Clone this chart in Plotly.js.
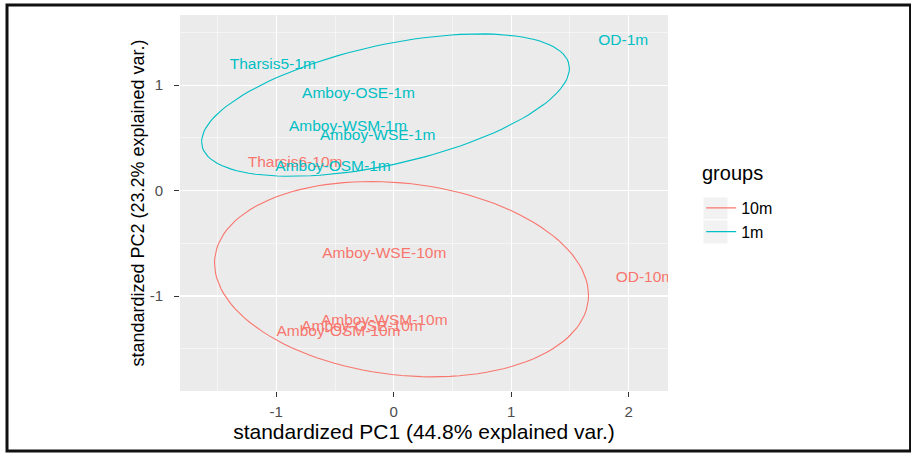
<!DOCTYPE html>
<html>
<head>
<meta charset="utf-8">
<script src="https://cdn.plot.ly/plotly-3.0.1.min.js"></script>
<style>
  html, body { margin: 0; padding: 0; background: #ffffff; }
  #chart { width: 911px; height: 455px; }
</style>
</head>
<body>
<div id="chart"></div>
<script>
// ---- data (standardized PC scores) ----
const groupNames = ["10m", "1m"];
const groupColors = ["#F8766D", "#00BFC4"];

const labels10m = ["Tharsis6-10m", "Amboy-WSE-10m", "OD-10m", "Amboy-WSM-10m", "Amboy-OSE-10m", "Amboy-OSM-10m"];
const pc1_10m = [-0.84, -0.08, 2.14, -0.08, -0.27, -0.47];
const pc2_10m = [0.26, -0.60, -0.83, -1.24, -1.29, -1.34];

const labels1m = ["OD-1m", "Tharsis5-1m", "Amboy-OSE-1m", "Amboy-WSM-1m", "Amboy-WSE-1m", "Amboy-OSM-1m"];
const pc1_1m = [1.955, -1.03, -0.30, -0.39, -0.137, -0.517];
const pc2_1m = [1.42, 1.19, 0.91, 0.60, 0.515, 0.225];

const xTicks = [-1, 0, 1, 2];
const yTicks = [-1, 0, 1];
const ellipseProb = 0.68;
const legendTitle = "groups";

// ---- normal-probability ellipse of each group (as ggbiplot does) ----
function groupEllipse(xs, ys, prob) {
  const n = xs.length;
  const mx = xs.reduce((a, b) => a + b, 0) / n;
  const my = ys.reduce((a, b) => a + b, 0) / n;
  let sxx = 0, syy = 0, sxy = 0;
  for (let i = 0; i < n; i++) {
    sxx += (xs[i] - mx) * (xs[i] - mx);
    syy += (ys[i] - my) * (ys[i] - my);
    sxy += (xs[i] - mx) * (ys[i] - my);
  }
  sxx /= (n - 1); syy /= (n - 1); sxy /= (n - 1);
  const a = Math.sqrt(sxx), b = sxy / a, c = Math.sqrt(syy - b * b);
  const ed = Math.sqrt(-2 * Math.log(1 - prob)); // sqrt(qchisq(prob, 2))
  const ex = [], ey = [];
  const steps = 120;
  for (let k = 0; k <= steps; k++) {
    const t = -Math.PI + 2 * Math.PI * k / steps;
    const ct = Math.cos(t), st = Math.sin(t);
    ex.push(mx + ed * ct * a);
    ey.push(my + ed * (ct * b + st * c));
  }
  return { x: ex, y: ey };
}

const font = "Liberation Sans, Arial, sans-serif";
const groupsData = [
  { name: groupNames[0], color: groupColors[0], x: pc1_10m, y: pc2_10m, t: labels10m },
  { name: groupNames[1], color: groupColors[1], x: pc1_1m, y: pc2_1m, t: labels1m }
];

const traces = [];
groupsData.forEach(g => {
  traces.push({
    type: "scatter", mode: "text", x: g.x, y: g.y, text: g.t,
    textposition: "middle center",
    textfont: { family: font, size: 15.5, color: g.color },
    showlegend: false, legendgroup: g.name, hoverinfo: "skip"
  });
});
groupsData.forEach(g => {
  const e = groupEllipse(g.x, g.y, ellipseProb);
  traces.push({
    type: "scatter", mode: "lines", x: e.x, y: e.y, name: g.name,
    line: { color: g.color, width: 1.1 },
    legendgroup: g.name, showlegend: true, hoverinfo: "skip"
  });
});

const axisCommon = {
  showgrid: true, gridcolor: "#FFFFFF", gridwidth: 1.1,
  zeroline: false, showline: false,
  ticks: "outside", ticklen: 5, tickwidth: 1, tickcolor: "#333333",
  tickfont: { family: font, size: 15, color: "#4D4D4D" },
  minor: { showgrid: true, gridcolor: "#FFFFFF", gridwidth: 0.5, ticks: "" }
};

const layout = {
  width: 911, height: 455,
  margin: { l: 180, r: 243, t: 15, b: 64 },
  paper_bgcolor: "#FFFFFF", plot_bgcolor: "#EBEBEB",
  font: { family: font },
  xaxis: Object.assign({}, axisCommon, {
    range: [-1.82, 2.336], tickvals: xTicks, ticktext: xTicks.map(String),
    ticklabelstandoff: 2,
    minor: Object.assign({}, axisCommon.minor, { dtick: 0.5, tick0: 0 }),
    title: { text: "standardized PC1 (44.8% explained var.)", font: { family: font, size: 21, color: "#000000" }, standoff: 5 }
  }),
  yaxis: Object.assign({}, axisCommon, {
    range: [-1.9, 1.664], tickvals: yTicks, ticktext: yTicks.map(String),
    ticklabelstandoff: 8,
    minor: Object.assign({}, axisCommon.minor, { dtick: 0.5, tick0: 0 }),
    title: { text: "standardized PC2 (23.2% explained var.)", font: { family: font, size: 18, color: "#000000" }, standoff: 0 }
  }),
  legend: {
    x: 1.068, xanchor: "left", y: 0.532, yanchor: "top",
    font: { family: font, size: 16, color: "#000000" },
    bgcolor: "rgba(0,0,0,0)", tracegroupgap: 0, itemwidth: 30
  },
  annotations: [{
    text: legendTitle, xref: "paper", yref: "paper",
    x: 1.0656, y: 0.5798, xanchor: "left", yanchor: "middle",
    showarrow: false, font: { family: font, size: 20, color: "#000000" }
  }],
  shapes: [
    {
      type: "rect", xref: "paper", yref: "paper",
      x0: -0.3545, x1: 1.497, y0: -0.1596, y1: 1.0266,
      line: { color: "#111111", width: 3 }, layer: "above"
    },
    {
      type: "rect", xref: "paper", yref: "paper",
      x0: 1.0717, x1: 1.1230, y0: 0.4548, y1: 0.5160,
      fillcolor: "#F2F2F2", line: { color: "#FFFFFF", width: 1 }, layer: "below"
    },
    {
      type: "rect", xref: "paper", yref: "paper",
      x0: 1.0717, x1: 1.1230, y0: 0.3910, y1: 0.4548,
      fillcolor: "#F2F2F2", line: { color: "#FFFFFF", width: 1 }, layer: "below"
    }
  ],
  showlegend: true
};

Plotly.newPlot("chart", traces, layout, { displayModeBar: false, staticPlot: true });
</script>
</body>
</html>
